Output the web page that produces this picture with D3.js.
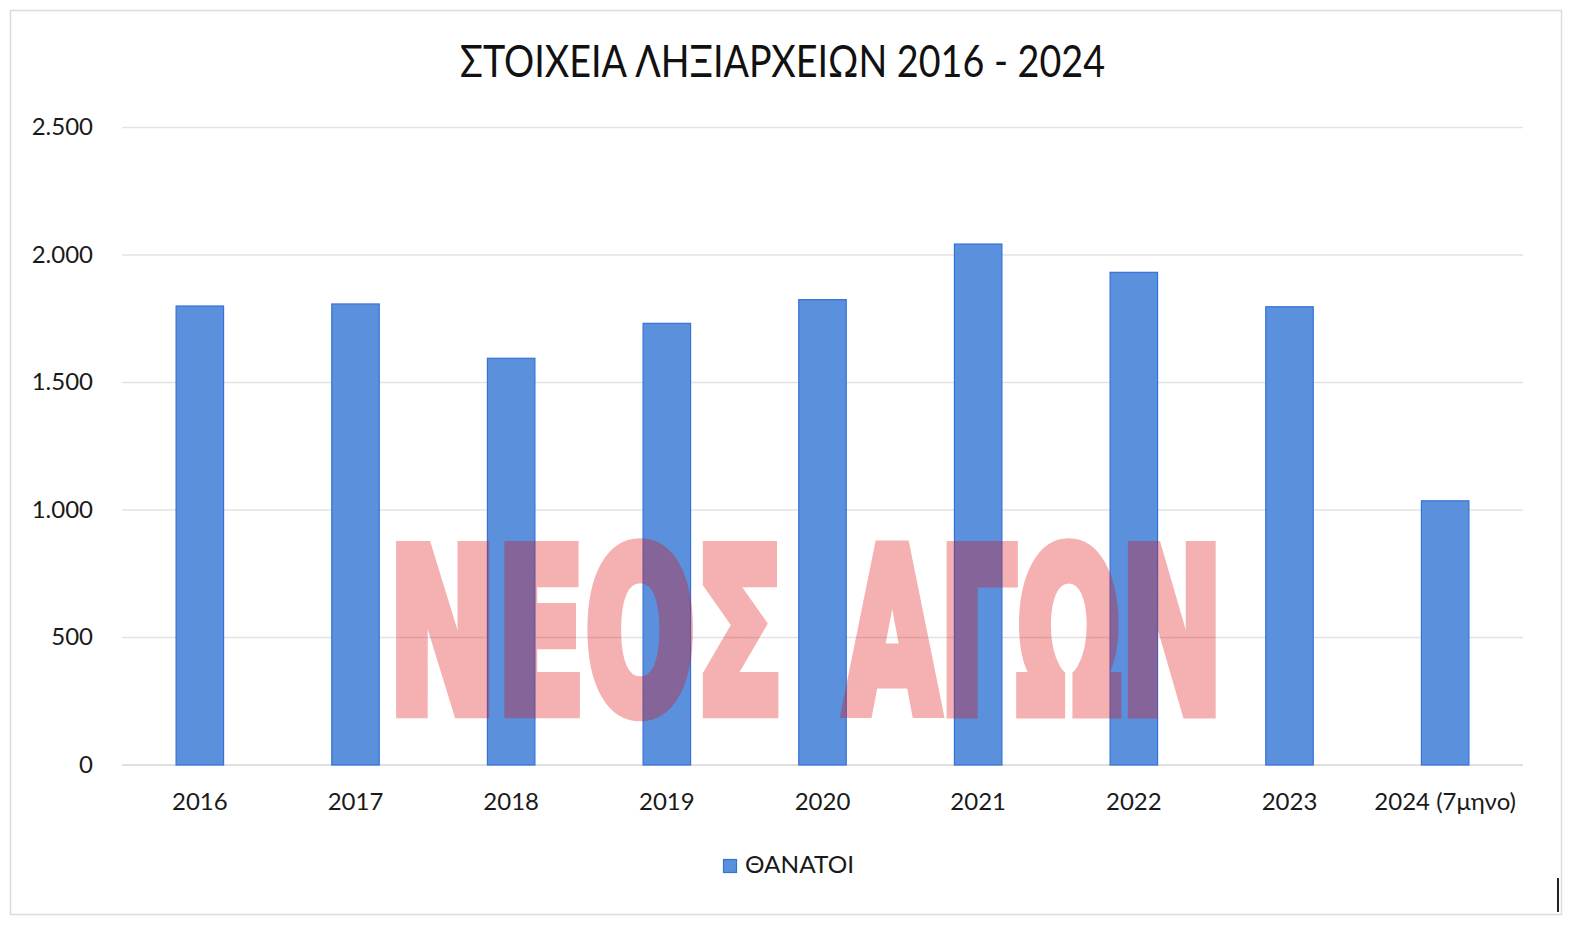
<!DOCTYPE html>
<html>
<head>
<meta charset="utf-8">
<script src="https://cdn.jsdelivr.net/npm/d3@7"></script>
<style>
  html, body { margin: 0; padding: 0; background: #fff; }
  svg { display: block; }
</style>
</head>
<body>
<svg id="chart" width="1575" height="933"></svg>
<script>
const categories = ["2016", "2017", "2018", "2019", "2020", "2021", "2022", "2023", "2024 (7μηνο)"];
const deaths = [1800, 1808, 1595, 1732, 1825, 2043, 1932, 1797, 1036];
const yTicks = [0, 500, 1000, 1500, 2000, 2500];
const yTickLabels = ["0", "500", "1.000", "1.500", "2.000", "2.500"];
const seriesName = "ΘΑΝΑΤΟΙ";
const titleText = "ΣΤΟΙΧΕΙΑ ΛΗΞΙΑΡΧΕΙΩΝ 2016 - 2024";
const watermarkWords = ["ΝΕΟΣ", "ΑΓΩΝ"];

const svg = d3.select("#chart");
const font = "Lato, 'Open Sans', sans-serif";
const textColor = "#1a1a1a";
const barFill = "#5b90dc";
const barStroke = "#3572d8";

// chart frame
svg.append("rect")
  .attr("x", 10.5).attr("y", 10.5)
  .attr("width", 1551).attr("height", 904)
  .attr("fill", "#fff")
  .attr("stroke", "#dcdcdc").attr("stroke-width", 1.5);

const plot = { left: 122, right: 1523, top: 127.5, bottom: 765 };

const x = d3.scaleBand()
  .domain(categories)
  .range([plot.left, plot.right])
  .paddingInner(0.695)
  .paddingOuter(0.3475);

const y = d3.scaleLinear()
  .domain([0, 2500])
  .range([plot.bottom, plot.top]);

// gridlines
svg.append("g").selectAll("line")
  .data(yTicks)
  .join("line")
  .attr("x1", plot.left).attr("x2", plot.right)
  .attr("y1", d => y(d)).attr("y2", d => y(d))
  .attr("stroke", d => d === 0 ? "#d6d6d6" : "#e3e3e3")
  .attr("stroke-width", 1.5);

// y axis labels
svg.append("g").selectAll("text")
  .data(yTicks)
  .join("text")
  .attr("x", 93)
  .attr("y", d => y(d) + 7.5)
  .attr("text-anchor", "end")
  .attr("font-family", font)
  .attr("font-size", 24)
  .attr("fill", textColor)
  .text((d, i) => yTickLabels[i]);

// bars
svg.append("g").selectAll("rect")
  .data(deaths)
  .join("rect")
  .attr("x", (d, i) => x(categories[i]))
  .attr("y", d => y(d))
  .attr("width", x.bandwidth())
  .attr("height", d => y(0) - y(d))
  .attr("fill", barFill)
  .attr("stroke", barStroke)
  .attr("stroke-width", 1.2);

// x axis labels
svg.append("g").selectAll("text")
  .data(categories)
  .join("text")
  .attr("x", d => x(d) + x.bandwidth() / 2)
  .attr("y", 810)
  .attr("text-anchor", "middle")
  .attr("font-family", font)
  .attr("font-size", 24)
  .attr("fill", textColor)
  .text(d => d);

// title
svg.append("text")
  .attr("x", 460)
  .attr("y", 77)
  .attr("font-family", font)
  .attr("font-size", 44)
  .attr("fill", "#111")
  .attr("textLength", 645)
  .attr("lengthAdjust", "spacingAndGlyphs")
  .text(titleText);

// legend
const legend = svg.append("g");
legend.append("rect")
  .attr("x", 723.5).attr("y", 859.5)
  .attr("width", 13).attr("height", 13)
  .attr("fill", barFill)
  .attr("stroke", barStroke).attr("stroke-width", 1.2);
legend.append("text")
  .attr("x", 745)
  .attr("y", 873)
  .attr("font-family", font)
  .attr("font-size", 23)
  .attr("fill", textColor)
  .attr("textLength", 109)
  .attr("lengthAdjust", "spacingAndGlyphs")
  .text(seriesName);

// watermark (each word horizontally condensed to its box)
const wmBoxes = [{ left: 388.6, right: 783.6 }, { left: 845.1, right: 1222.7 }];
const wm = svg.append("g")
  .attr("opacity", 0.32)
  .attr("fill", "rgb(222,10,10)")
  .attr("stroke", "rgb(222,10,10)");
watermarkWords.forEach((w, i) => {
  const t = wm.append("text")
    .attr("x", 0).attr("y", 0)
    .attr("font-family", "'DejaVu Sans', sans-serif")
    .attr("font-weight", "bold")
    .attr("font-size", 222)
    .attr("stroke-width", 12)
    .attr("stroke-linejoin", "miter")
    .attr("vector-effect", "non-scaling-stroke")
    .text(w);
  const bb = t.node().getBBox();
  const sx = (wmBoxes[i].right - wmBoxes[i].left) / bb.width;
  const tx = wmBoxes[i].left - bb.x * sx;
  t.attr("transform", `translate(${tx},711) scale(${sx},1)`);
});

// small cursor mark at bottom right
svg.append("line")
  .attr("x1", 1558).attr("x2", 1558)
  .attr("y1", 878).attr("y2", 912)
  .attr("stroke", "#222").attr("stroke-width", 2);
</script>
</body>
</html>
